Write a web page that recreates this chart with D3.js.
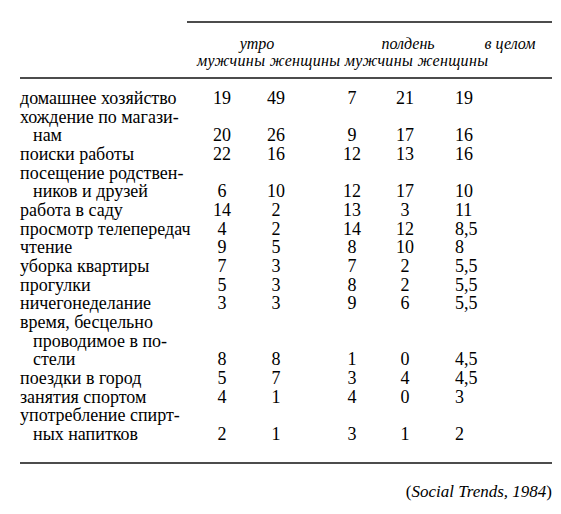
<!DOCTYPE html>
<html><head><meta charset="utf-8">
<script src="https://cdn.jsdelivr.net/npm/d3@7"></script>
<style>body{margin:0;background:#fff} svg text{font-family:"Liberation Serif","Times New Roman",Tinos,"DejaVu Serif",serif}</style>
</head><body><div id="box"></div>
<script>
var width = 561, height = 514;

var groups = ["утро", "полдень", "в целом"];
var subHeads = ["мужчины", "женщины", "мужчины", "женщины"];
var labels = [
  ["домашнее хозяйство"],
  ["хождение по магази-", "нам"],
  ["поиски работы"],
  ["посещение родствен-", "ников и друзей"],
  ["работа в саду"],
  ["просмотр телепередач"],
  ["чтение"],
  ["уборка квартиры"],
  ["прогулки"],
  ["ничегонеделание"],
  ["время, бесцельно", "проводимое в по-", "стели"],
  ["поездки в город"],
  ["занятия спортом"],
  ["употребление спирт-", "ных напитков"]
];
var morningMen   = [19, 20, 22, 6, 14, 4, 9, 7, 5, 3, 8, 5, 4, 2];
var morningWomen = [49, 26, 16, 10, 2, 2, 5, 3, 3, 3, 8, 7, 1, 1];
var noonMen      = [7, 9, 12, 12, 13, 14, 8, 7, 8, 9, 1, 3, 4, 3];
var noonWomen    = [21, 17, 13, 17, 3, 12, 10, 2, 2, 6, 0, 4, 0, 1];
var overall      = ["19", "16", "16", "10", "11", "8,5", "8", "5,5", "5,5", "5,5", "4,5", "4,5", "3", "2"];
var source = ["(", "Social Trends, 1984", ")"];

var svg = d3.select("#box").append("svg")
  .attr("width", width).attr("height", height)
  .attr("font-size", 18);

// one line scale for all text lines of the body
var nLines = d3.sum(labels, function(l) { return l.length; });
var y = d3.scaleLinear().domain([0, nLines - 1]).range([104, 440]);
var colXs = [222, 276, 352, 405];

// rules
svg.append("line").attr("x1", 187).attr("x2", 552).attr("y1", 22).attr("y2", 22).attr("stroke", "#111").attr("stroke-width", 1.3);
svg.append("line").attr("x1", 20).attr("x2", 552).attr("y1", 78).attr("y2", 78).attr("stroke", "#111").attr("stroke-width", 1.3);
svg.append("line").attr("x1", 20).attr("x2", 552).attr("y1", 463).attr("y2", 463).attr("stroke", "#111").attr("stroke-width", 1.3);

// header
var hx = [257, 408, 510];
svg.selectAll(".grp").data(groups).enter().append("text")
  .attr("x", function(d, i) { return hx[i]; }).attr("y", 49)
  .attr("text-anchor", "middle").attr("font-style", "italic").attr("font-size", 16)
  .text(function(d) { return d; });
svg.append("text").attr("x", 197).attr("y", 66).attr("textLength", 291)
  .attr("font-style", "italic").attr("font-size", 16)
  .text(subHeads.join(" "));

// body
var line = 0;
labels.forEach(function(lab, r) {
  lab.forEach(function(t, k) {
    svg.append("text").attr("x", k == 0 ? 20 : 33).attr("y", y(line + k)).text(t);
  });
  var yy = y(line + lab.length - 1);
  [morningMen, morningWomen, noonMen, noonWomen].forEach(function(s, c) {
    svg.append("text").attr("x", colXs[c]).attr("y", yy)
      .attr("text-anchor", "middle").text(s[r]);
  });
  svg.append("text").attr("x", 455).attr("y", yy).text(overall[r]);
  line += lab.length;
});

// source
var src = svg.append("text").attr("x", 552).attr("y", 497).attr("text-anchor", "end").attr("font-size", 17);
src.append("tspan").text(source[0]);
src.append("tspan").attr("font-style", "italic").text(source[1]);
src.append("tspan").text(source[2]);
</script></body></html>
